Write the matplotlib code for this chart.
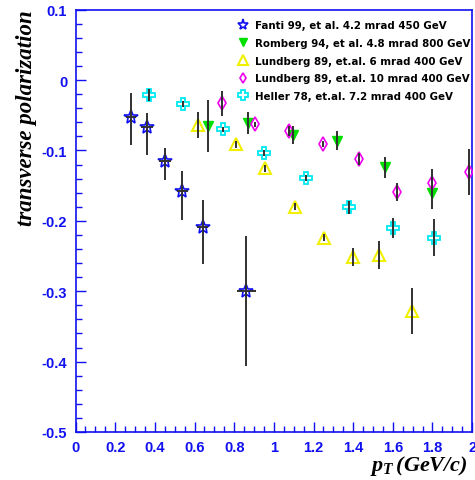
import numpy as np
import matplotlib
matplotlib.use("Agg")
import matplotlib.pyplot as plt
from matplotlib.ticker import MultipleLocator

# Fanti 99, 4.2 mrad 450 GeV
fanti_x = [0.28, 0.359, 0.451, 0.539, 0.641, 0.862]
fanti_y = [-0.053, -0.066, -0.115, -0.157, -0.209, -0.299]
fanti_ylo = [0.039, 0.041, 0.027, 0.042, 0.053, 0.107]
fanti_yhi = [0.034, 0.019, 0.018, 0.028, 0.038, 0.078]
fanti_xerr = [0.027, 0.030, 0.028, 0.028, 0.028, 0.050]

# Romberg 94, 4.8 mrad 800 GeV
romb_x = [0.67, 0.87, 1.095, 1.32, 1.56, 1.80]
romb_y = [-0.065, -0.061, -0.078, -0.086, -0.124, -0.161]
romb_err = [0.037, 0.015, 0.013, 0.014, 0.015, 0.022]

# Lundberg 89, 6 mrad 400 GeV
lund6_x = [0.62, 0.81, 0.955, 1.107, 1.255, 1.40, 1.53, 1.695]
lund6_y = [-0.064, -0.091, -0.125, -0.180, -0.224, -0.251, -0.249, -0.328]
lund6_err = [0.018, 0.005, 0.005, 0.005, 0.005, 0.013, 0.020, 0.033]

# Lundberg 89, 10 mrad 400 GeV
lund10_x = [0.74, 0.907, 1.075, 1.25, 1.43, 1.62, 1.80, 1.985]
lund10_y = [-0.033, -0.063, -0.072, -0.091, -0.112, -0.159, -0.146, -0.131]
lund10_err = [0.018, 0.004, 0.007, 0.004, 0.008, 0.013, 0.020, 0.033]

# Heller 78, 7.2 mrad 400 GeV
hel_x = [0.372, 0.54, 0.742, 0.95, 1.162, 1.38, 1.60, 1.81]
hel_y = [-0.021, -0.034, -0.070, -0.104, -0.139, -0.181, -0.210, -0.224]
hel_err = [0.009, 0.004, 0.004, 0.004, 0.004, 0.009, 0.014, 0.026]

labels = ["Fanti 99, et al. 4.2 mrad 450 GeV",
          "Romberg 94, et al. 4.8 mrad 800 GeV",
          "Lundberg 89, et.al. 6 mrad 400 GeV",
          "Lundberg 89, et.al. 10 mrad 400 GeV",
          "Heller 78, et.al. 7.2 mrad 400 GeV"]

plt.rcParams['mathtext.fontset'] = 'custom'
plt.rcParams['mathtext.it'] = 'Liberation Serif:bold:italic'
plt.rcParams['mathtext.rm'] = 'Liberation Serif:bold:italic'

fig = plt.figure(figsize=(4.75, 4.81), dpi=100)
ax = fig.add_axes([0.159, 0.0998, 0.835, 0.878])

blue = '#1010f0'
ecol = '#303030'
ebar = dict(fmt='none', ecolor=ecol, elinewidth=1.4, capsize=0, zorder=5)

ax.errorbar(fanti_x, fanti_y, yerr=[fanti_ylo, fanti_yhi], xerr=fanti_xerr, **ebar)
ax.errorbar(romb_x, romb_y, yerr=romb_err, **ebar)
ax.errorbar(lund6_x, lund6_y, yerr=lund6_err, **ebar)
ax.errorbar(lund10_x, lund10_y, yerr=lund10_err, **ebar)
ax.errorbar(hel_x, hel_y, yerr=hel_err, **ebar)

ax.plot(fanti_x, fanti_y, ls='none', marker='*', ms=10, mfc='none', mec=blue, mew=1.2, zorder=4, label=labels[0])
ax.plot(romb_x, romb_y, ls='none', marker='v', ms=7, mfc='#00e000', mec='#00e000', zorder=4, label=labels[1])
ax.plot(lund6_x, lund6_y, ls='none', marker='^', ms=8.5, mfc='none', mec='#f0f000', mew=1.5, zorder=4, label=labels[2])
ax.plot(lund10_x, lund10_y, ls='none', marker='d', ms=7, mfc='none', mec='#f000f0', mew=1.2, zorder=4, label=labels[3])
ax.plot(hel_x, hel_y, ls='none', marker='P', ms=8.5, mfc='none', mec='#00e8f0', mew=1.3, zorder=4, label=labels[4])

ax.set_xlim(0, 2)
ax.set_ylim(-0.5, 0.1)
ax.xaxis.set_major_locator(MultipleLocator(0.2))
ax.xaxis.set_minor_locator(MultipleLocator(0.05))
ax.yaxis.set_major_locator(MultipleLocator(0.1))
ax.yaxis.set_minor_locator(MultipleLocator(0.02))
ax.xaxis.set_major_formatter(plt.FuncFormatter(lambda v, p: f"{v:g}"))
ax.yaxis.set_major_formatter(plt.FuncFormatter(lambda v, p: f"{v:.1f}" if abs(v) > 1e-9 else "0"))

for s in ax.spines.values():
    s.set_color(blue)
    s.set_linewidth(1.2)
ax.tick_params(which='both', direction='in', colors=blue, top=False, right=False,
               labelsize=10.5)
ax.tick_params(which='major', length=7, width=1.0, pad=6)
ax.tick_params(which='minor', length=4, width=1.0)
for t in ax.get_xticklabels() + ax.get_yticklabels():
    t.set_fontweight('bold')
    t.set_family('Liberation Sans')
    t.set_color(blue)

ax.set_ylabel('transverse polarization', family='Liberation Serif', style='italic',
              weight='bold', fontsize=16.5, color='black', loc='top', labelpad=3)
ax.set_xlabel(r'$p_T\,$(GeV/c)', family='Liberation Serif', style='italic',
              weight='bold', fontsize=16, color='black', loc='right', labelpad=-1)
ax.xaxis.label.set_x(0.99)

leg = ax.legend(loc='upper left', bbox_to_anchor=(0.40, 0.985), frameon=False,
                handlelength=1.0, handletextpad=0.6, labelspacing=0.75, markerscale=0.8,
                borderaxespad=0, prop=dict(family='DejaVu Sans', weight='bold', size=7.4))

fig.savefig('out.png', dpi=100)
